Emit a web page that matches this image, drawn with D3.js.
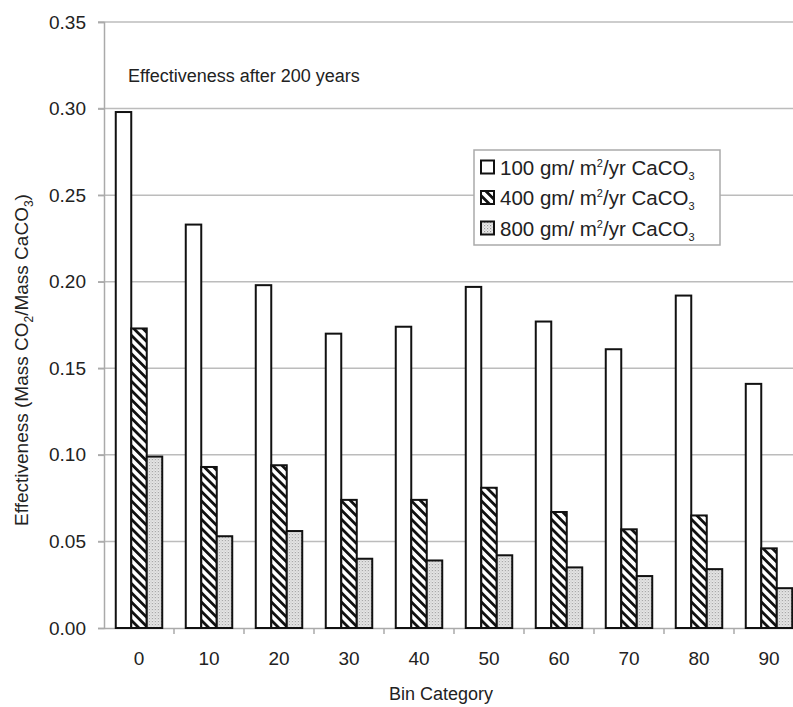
<!DOCTYPE html>
<html>
<head>
<meta charset="utf-8">
<script src="https://cdn.jsdelivr.net/npm/d3@7"></script>
<style>
  body { margin: 0; background: #fff; }
  svg { display: block; font-family: "Liberation Sans", Arial, sans-serif; }
  .axis text { font-size: 19px; fill: #222; }
</style>
</head>
<body>
<div id="chart"></div>
<script>
// Data
const categories = ["0", "10", "20", "30", "40", "50", "60", "70", "80", "90"];
const seriesNames = ["100", "400", "800"];
const values100 = [0.298, 0.233, 0.198, 0.170, 0.174, 0.197, 0.177, 0.161, 0.192, 0.141];
const values400 = [0.173, 0.093, 0.094, 0.074, 0.074, 0.081, 0.067, 0.057, 0.065, 0.046];
const values800 = [0.099, 0.053, 0.056, 0.040, 0.039, 0.042, 0.035, 0.030, 0.034, 0.023];
const yTicks = [0, 0.05, 0.10, 0.15, 0.20, 0.25, 0.30, 0.35];

const W = 793, H = 707;
const margin = { top: 22, left: 104 };
const plotBottom = 628;
const plotRight = 804;   // plot area runs past the picture edge

const svg = d3.select("#chart").append("svg")
    .attr("width", W)
    .attr("height", H);

// fill patterns
const defs = svg.append("defs");
const hatch = defs.append("pattern")
    .attr("id", "hatch")
    .attr("patternUnits", "userSpaceOnUse")
    .attr("width", 6.5).attr("height", 6.5)
    .attr("patternTransform", "rotate(-45)");
hatch.append("rect").attr("width", 6.5).attr("height", 6.5).attr("fill", "#fff");
hatch.append("rect").attr("width", 2.8).attr("height", 6.5).attr("fill", "#111");

const dots = defs.append("pattern")
    .attr("id", "dots")
    .attr("patternUnits", "userSpaceOnUse")
    .attr("width", 3).attr("height", 3);
dots.append("rect").attr("width", 3).attr("height", 3).attr("fill", "#ececec");
dots.append("rect").attr("width", 1.2).attr("height", 1.2).attr("fill", "#999");
dots.append("rect").attr("x", 1.5).attr("y", 1.5).attr("width", 1.2).attr("height", 1.2).attr("fill", "#bbb");

const fills = ["#fff", "url(#hatch)", "url(#dots)"];

// scales
const x = d3.scaleBand()
    .domain(categories)
    .range([margin.left, plotRight])
    .paddingInner(0.336)
    .paddingOuter(0.168);

const xs = d3.scaleBand()
    .domain(seriesNames)
    .range([0, x.bandwidth()]);

const y = d3.scaleLinear()
    .domain([0, 0.35])
    .range([plotBottom, margin.top]);

// gridlines
svg.append("g")
    .selectAll("line")
    .data(yTicks.slice(1))
    .join("line")
    .attr("x1", margin.left - 6)
    .attr("x2", W)
    .attr("y1", d => y(d))
    .attr("y2", d => y(d))
    .attr("stroke", "#bcbcbc")
    .attr("stroke-width", 1.5);

// y axis
const yAxis = d3.axisLeft(y)
    .tickValues(yTicks)
    .tickFormat(d3.format(".2f"))
    .tickSize(6)
    .tickPadding(12);

svg.append("g")
    .attr("class", "axis y-axis")
    .attr("transform", "translate(" + margin.left + ",0)")
    .call(yAxis)
    .call(g => g.select(".domain").attr("stroke", "#aaa").attr("stroke-width", 1.5))
    .call(g => g.selectAll(".tick line").attr("stroke", "#aaa").attr("stroke-width", 1.5));

// x axis: ticks sit between categories
const xAxis = d3.axisBottom(x)
    .tickSize(0)
    .tickPadding(24);

svg.append("g")
    .attr("class", "axis x-axis")
    .attr("transform", "translate(0," + plotBottom + ")")
    .call(xAxis)
    .call(g => g.select(".domain").attr("stroke", "#aaa").attr("stroke-width", 1.5));

svg.append("g")
    .selectAll("line")
    .data(categories.slice(1))
    .join("line")
    .attr("x1", d => x(d) - x.step() * x.paddingInner() / 2)
    .attr("x2", d => x(d) - x.step() * x.paddingInner() / 2)
    .attr("y1", plotBottom)
    .attr("y2", plotBottom + 6)
    .attr("stroke", "#aaa")
    .attr("stroke-width", 1.5);

// bars
const allSeries = [values100, values400, values800];
const groups = svg.append("g")
    .selectAll("g")
    .data(categories)
    .join("g")
    .attr("transform", d => "translate(" + x(d) + ",0)");

groups.selectAll("rect")
    .data((d, i) => seriesNames.map((s, j) => ({ s: s, v: allSeries[j][i], j: j })))
    .join("rect")
    .attr("x", d => xs(d.s))
    .attr("width", xs.bandwidth())
    .attr("y", d => y(d.v))
    .attr("height", d => plotBottom - y(d.v))
    .attr("fill", d => fills[d.j])
    .attr("stroke", "#111")
    .attr("stroke-width", 2);

// axis titles
svg.append("text")
    .attr("transform", "translate(28,360) rotate(-90)")
    .attr("text-anchor", "middle")
    .style("font-size", "19px")
    .attr("fill", "#222")
    .call(t => {
        t.append("tspan").text("Effectiveness (Mass CO");
        t.append("tspan").attr("dy", 5).style("font-size", "12px").text("2");
        t.append("tspan").attr("dy", -5).text("/Mass CaCO");
        t.append("tspan").attr("dy", 5).style("font-size", "12px").text("3");
        t.append("tspan").attr("dy", -5).text(")");
    });

svg.append("text")
    .attr("x", 441)
    .attr("y", 700)
    .attr("text-anchor", "middle")
    .style("font-size", "18px")
    .attr("fill", "#222")
    .text("Bin Category");

svg.append("text")
    .attr("x", 128)
    .attr("y", 82)
    .style("font-size", "18px")
    .attr("fill", "#222")
    .text("Effectiveness after 200 years");

// legend
const legend = svg.append("g").attr("transform", "translate(474,150)");
legend.append("rect")
    .attr("width", 246)
    .attr("height", 95)
    .attr("fill", "#fff")
    .attr("stroke", "#aaa")
    .attr("stroke-width", 1.5);

const rows = legend.selectAll(".row")
    .data(seriesNames)
    .join("g")
    .attr("class", "row")
    .attr("transform", (d, i) => "translate(7," + (17 + i * 30.5) + ")");

rows.append("rect")
    .attr("y", -6.5)
    .attr("width", 13)
    .attr("height", 13)
    .attr("fill", (d, i) => fills[i])
    .attr("stroke", "#111")
    .attr("stroke-width", 2);

rows.append("text")
    .attr("x", 19)
    .attr("y", 7.5)
    .style("font-size", "20.5px")
    .attr("fill", "#222")
    .call(t => {
        t.append("tspan").text(d => d + " gm/ m");
        t.append("tspan").attr("dy", -8).style("font-size", "11px").text("2");
        t.append("tspan").attr("dy", 8).text("/yr CaCO");
        t.append("tspan").attr("dy", 5).style("font-size", "11px").text("3");
    });
</script>
</body>
</html>
